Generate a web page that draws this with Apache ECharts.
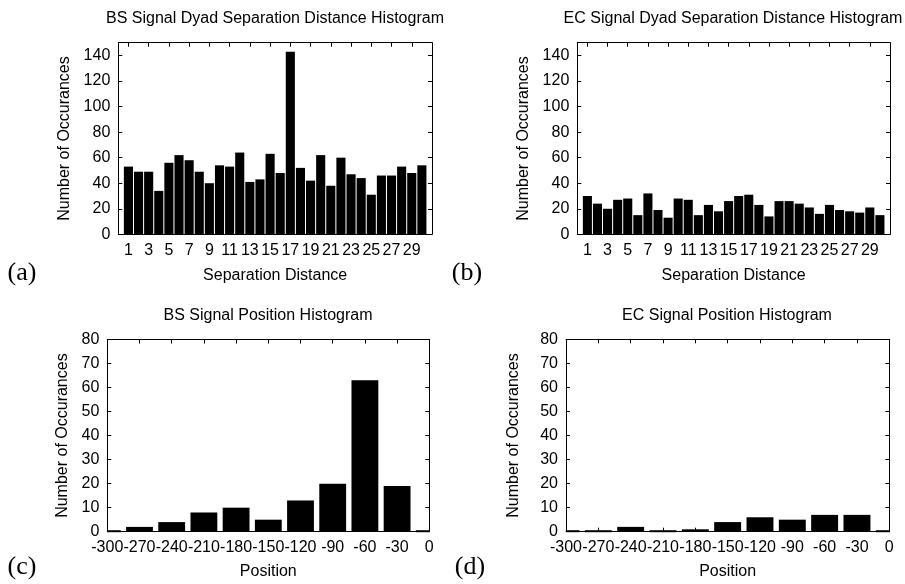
<!DOCTYPE html>
<html>
<head>
<meta charset="utf-8">
<script src="https://cdn.jsdelivr.net/npm/echarts@6/dist/echarts.min.js"></script>
<style>
html,body{margin:0;padding:0;background:#fff;}
#chart{width:905px;height:584px;}
</style>
</head>
<body>
<div id="chart"></div>
<script>
// ---- data ----
const separationDistances = [1,2,3,4,5,6,7,8,9,10,11,12,13,14,15,16,17,18,19,20,21,22,23,24,25,26,27,28,29,30];
const bsSeparationCounts = [53,49,49,34,56,62,58,49,40,54,53,64,41,43,63,48,143,52,42,62,38,60,47,44,31,46,46,53,48,54];
const ecSeparationCounts = [30,24,20,27,28,15,32,19,13,28,27,15,23,18,26,30,31,23,14,26,26,24,21,16,23,19,18,17,21,15];
const separationTickLabels = [1,3,5,7,9,11,13,15,17,19,21,23,25,27,29];

const positions = [-300,-270,-240,-210,-180,-150,-120,-90,-60,-30,0];
const bsPositionCounts = [0,2,4,8,10,5,13,20,63,19,0];
const ecPositionCounts = [0,0,2,0,1,4,6,5,7,7,0];
const positionTickLabels = [-300,-270,-240,-210,-180,-150,-120,-90,-60,-30,0];

const titles = [
  'BS Signal Dyad Separation Distance Histogram',
  'EC Signal Dyad Separation Distance Histogram',
  'BS Signal Position Histogram',
  'EC Signal Position Histogram'
];
const panelLetters = ['(a)','(b)','(c)','(d)'];
const xNames = ['Separation Distance','Separation Distance','Position','Position'];
const yName = 'Number of Occurances';

// ---- layout / style ----
const FONT = "'Liberation Sans', Arial, Helvetica, sans-serif";
const FS = 16;
const grids = [
  {left:118.3, top:42.7, width:313.7, height:191.6},
  {left:577.3, top:42.7, width:312.7, height:191.6},
  {left:107.3, top:339.5, width:322, height:192.2},
  {left:566, top:339.3, width:323.3, height:192.4}
];
const panels = [
  {xs: separationDistances, ys: bsSeparationCounts, xMin:0, xMax:31, ticks: separationTickLabels, yMax:150, yInt:20, barW:0.9, yGap:46, xGap:33},
  {xs: separationDistances, ys: ecSeparationCounts, xMin:0, xMax:31, ticks: separationTickLabels, yMax:150, yInt:20, barW:0.9, yGap:46, xGap:33},
  {xs: positions, ys: bsPositionCounts, xMin:-300, xMax:0, ticks: positionTickLabels, yMax:80, yInt:10, barW:25, yGap:37, xGap:32},
  {xs: positions, ys: ecPositionCounts, xMin:-300, xMax:0, ticks: positionTickLabels, yMax:80, yInt:10, barW:25, yGap:44, xGap:32}
];
const titlePos = [[275,19],[733,19],[268,316],[727,316]];
const letterPos = [[22,273],[467,273],[22,567],[470,567]];

const lineStyle = {color:'#000', width:1};
const tickStyle = {inside:true, length:4, lineStyle:{color:'#000', width:1}};

const xAxes = [], yAxes = [], series = [], graphics = [];

panels.forEach((p, i) => {
  xAxes.push({
    type:'value', gridIndex:i, min:p.xMin, max:p.xMax, position:'bottom',
    axisLine:{show:true, onZero:false, lineStyle},
    axisTick:Object.assign({customValues:p.ticks}, tickStyle),
    axisLabel:{customValues:p.ticks, color:'#000', fontFamily:FONT, fontSize:FS, margin:8},
    splitLine:{show:false},
    name:xNames[i], nameLocation:'middle', nameGap:p.xGap,
    nameTextStyle:{color:'#000', fontFamily:FONT, fontSize:FS}
  });
  xAxes.push({
    type:'value', gridIndex:i, min:p.xMin, max:p.xMax, position:'top',
    axisLine:{show:true, onZero:false, lineStyle},
    axisTick:Object.assign({customValues:p.ticks}, tickStyle),
    axisLabel:{show:false}, splitLine:{show:false}
  });
  yAxes.push({
    type:'value', gridIndex:i, min:0, max:p.yMax, interval:p.yInt, position:'left',
    axisLine:{show:true, onZero:false, lineStyle},
    axisTick:tickStyle,
    axisLabel:{color:'#000', fontFamily:FONT, fontSize:FS, margin:8, showMaxLabel:p.yMax % p.yInt === 0},
    splitLine:{show:false},
    name:yName, nameLocation:'middle', nameGap:p.yGap, nameRotate:90,
    nameTextStyle:{color:'#000', fontFamily:FONT, fontSize:FS}
  });
  yAxes.push({
    type:'value', gridIndex:i, min:0, max:p.yMax, interval:p.yInt, position:'right',
    axisLine:{show:true, onZero:false, lineStyle},
    axisTick:tickStyle, axisLabel:{show:false}, splitLine:{show:false}
  });
  const barW = p.barW;
  series.push({
    type:'custom', xAxisIndex:2*i, yAxisIndex:2*i,
    data:p.xs.map((x, k) => [x, p.ys[k]]),
    encode:{x:0, y:1},
    z:3,
    renderItem:function(params, api){
      const x = api.value(0), v = api.value(1);
      const a = api.coord([x - barW/2, v]);
      const b = api.coord([x + barW/2, 0]);
      const cs = params.coordSys;
      const l = Math.max(a[0], cs.x), r = Math.min(b[0], cs.x + cs.width);
      if (r <= l) return null;
      if (v === 0) {
        return {type:'line', shape:{x1:l, y1:b[1]-0.5, x2:r, y2:b[1]-0.5}, style:{stroke:'#000', lineWidth:2}};
      }
      return {type:'rect', shape:{x:l, y:a[1], width:r-l, height:b[1]-a[1]}, style:{fill:'#000'}};
    }
  });
  graphics.push({type:'text', x:titlePos[i][0], y:titlePos[i][1],
    style:{text:titles[i], fill:'#000', font:FS + 'px ' + FONT, textAlign:'center', textVerticalAlign:'middle'}});
  graphics.push({type:'text', x:letterPos[i][0], y:letterPos[i][1],
    style:{text:panelLetters[i], fill:'#000', font:"26px 'Liberation Serif', 'Times New Roman', serif", textAlign:'center', textVerticalAlign:'middle'}});
});

const chart = echarts.init(document.getElementById('chart'), null, {renderer:'canvas'});
chart.setOption({
  animation:false,
  backgroundColor:'#fff',
  grid:grids,
  xAxis:xAxes,
  yAxis:yAxes,
  series:series,
  graphic:graphics
});
</script>
</body>
</html>
